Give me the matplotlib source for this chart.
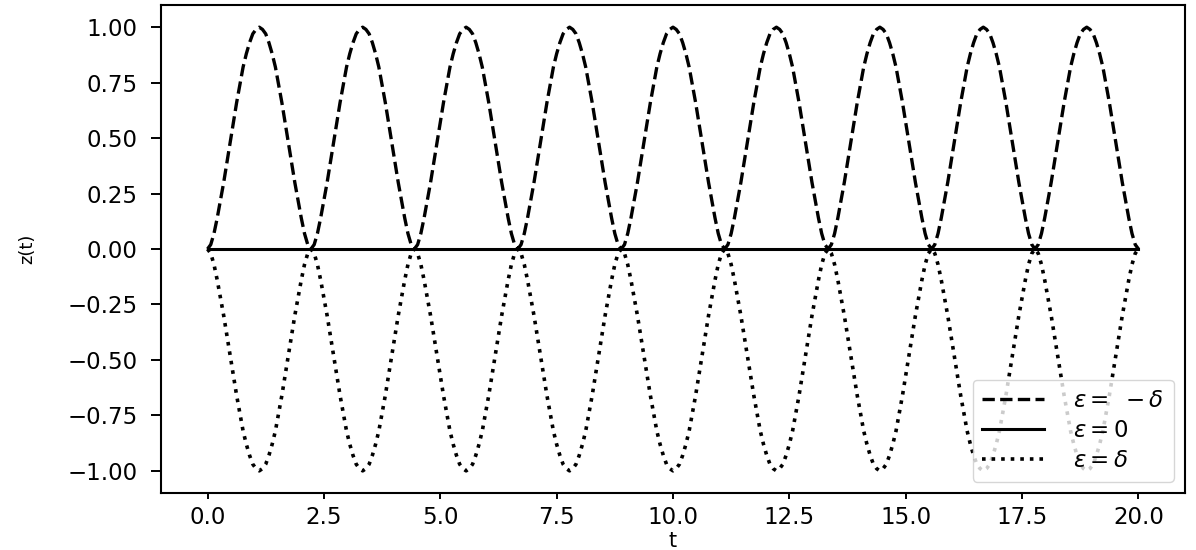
import numpy as np
import matplotlib
matplotlib.use("Agg")
import matplotlib.pyplot as plt

# one full cycle of z(t) for eps = -delta (32 samples per cycle)
z_cycle = [0.00, 0.02, 0.07, 0.14, 0.22, 0.30, 0.39, 0.48,
           0.57, 0.66, 0.74, 0.82, 0.88, 0.93, 0.97, 0.99,
           1.00, 0.99, 0.97, 0.93, 0.88, 0.82, 0.74, 0.66,
           0.57, 0.48, 0.39, 0.30, 0.22, 0.14, 0.07, 0.02]
n_cycles = 9
t_start = 0.0
t_end = 20.0

labels = [r'$\varepsilon =\ -\delta$', r'$\varepsilon = 0$', r'$\varepsilon = \delta$']

# build the series
z_minus = np.concatenate([np.tile(z_cycle, n_cycles), [0.0]])
t = np.linspace(t_start, t_end, len(z_minus))
z_zero = np.zeros_like(t)
z_plus = -z_minus

plt.rcParams['font.family'] = 'DejaVu Sans'
plt.rcParams['font.size'] = 16

fig = plt.figure(figsize=(11.96, 5.5), dpi=100)
ax = fig.add_axes([0.1346, 0.1036, 0.8562, 0.8873])

ax.plot(t, z_minus, 'k--', lw=2.4, label=labels[0])
ax.plot(t, z_zero, 'k-', lw=2.2, label=labels[1])
ax.plot(t, z_plus, 'k:', lw=2.6, label=labels[2])

ax.set_xticks([0, 2.5, 5, 7.5, 10, 12.5, 15, 17.5, 20])
ax.set_yticks([-1, -0.75, -0.5, -0.25, 0, 0.25, 0.5, 0.75, 1])
ax.set_yticklabels(['%.2f' % v if v >= 0 else '\u2212%.2f' % abs(v)
                    for v in ax.get_yticks()])
ax.tick_params(axis='y', length=7, width=1.4, pad=10, labelsize=16.5)
ax.tick_params(axis='x', length=4, width=1.4, pad=5, labelsize=16.5)
for s in ax.spines.values():
    s.set_linewidth(1.5)

ax.set_xlabel('t', fontsize=15, labelpad=2)
ax.set_ylabel('z(t)', fontsize=13, labelpad=22)

ax.legend(loc='lower right', fontsize=16.5, handlelength=2.7, labelspacing=0.32,
          borderaxespad=0.5, handletextpad=1.3)

fig.savefig('out.png', dpi=100)
